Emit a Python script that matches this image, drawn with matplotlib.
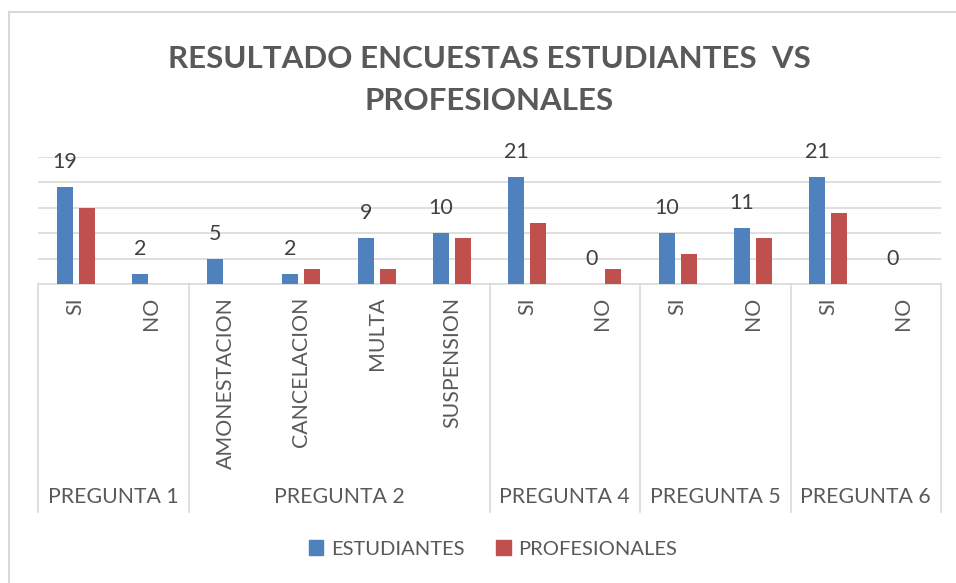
import matplotlib.pyplot as plt
import matplotlib.transforms as mtransforms
from matplotlib.lines import Line2D
from matplotlib.patches import Patch

categories = ["SI", "NO", "AMONESTACION", "CANCELACION", "MULTA", "SUSPENSION",
              "SI", "NO", "SI", "NO", "SI", "NO"]
groups = ["PREGUNTA 1", "PREGUNTA 2", "PREGUNTA 4", "PREGUNTA 5", "PREGUNTA 6"]
group_sizes = [2, 4, 2, 2, 2]
estudiantes = [19, 2, 5, 2, 9, 10, 21, 0, 10, 11, 21, 0]
profesionales = [15, 0, 0, 3, 3, 9, 12, 3, 6, 9, 14, 0]

BLUE = "#4f81bd"
RED = "#c0504d"
TEXT = "#595959"
GRID = "#d9d9d9"

plt.rcParams["font.family"] = ["Lato", "DejaVu Sans"]

W, H = 956, 583
fig = plt.figure(figsize=(W / 100, H / 100), dpi=100)

# plot area in pixel coords
left, right, top, bottom = 38, 941, 157, 284
ax = fig.add_axes([left / W, 1 - bottom / H, (right - left) / W, (bottom - top) / H])

x = list(range(len(categories)))
bw = 0.213
off = 0.146
ax.bar([i - off for i in x], estudiantes, width=bw, color=BLUE, zorder=3)
ax.bar([i + off for i in x], profesionales, width=bw, color=RED, zorder=3)

for i, v in enumerate(estudiantes):
    ax.annotate(str(v), (i - off, v), xytext=(0, 18), textcoords="offset points",
                ha="center", va="center", fontsize=15.5, color="#404040",
                annotation_clip=False)

ax.set_xlim(-0.5, len(categories) - 0.5)
ax.set_ylim(0, 25)
ax.set_yticks([5, 10, 15, 20, 25])
ax.yaxis.grid(True, color=GRID, linewidth=1.2, zorder=0)
ax.tick_params(left=False, bottom=False, labelleft=False, labelbottom=False)
for s in ["top", "right", "left"]:
    ax.spines[s].set_visible(False)
ax.spines["bottom"].set_color(GRID)
ax.spines["bottom"].set_linewidth(1.2)

ph = bottom - top
trans = mtransforms.blended_transform_factory(ax.transData, ax.transAxes)

for i, c in enumerate(categories):
    ax.text(i, -(297 - bottom) / ph, c, rotation=90, ha="center", va="top",
            fontsize=15.3, color=TEXT, transform=trans)

start = -0.5
sep_bottom = -(512 - bottom) / ph
ax.plot([start, start], [0, sep_bottom], color=GRID, lw=1.2, transform=trans, clip_on=False)
for g, n in zip(groups, group_sizes):
    end = start + n
    ax.plot([end, end], [0, sep_bottom], color=GRID, lw=1.2, transform=trans, clip_on=False)
    ax.text((start + end) / 2, -(497 - bottom) / ph, g, ha="center", va="center",
            fontsize=15.3, color=TEXT, transform=trans)
    start = end

fig.text(489 / W, 1 - 80 / H, "RESULTADO ENCUESTAS ESTUDIANTES  VS\nPROFESIONALES",
         ha="center", va="center", fontsize=22.5, fontweight="bold", color=TEXT,
         linespacing=1.6)

handles = [Patch(color=BLUE), Patch(color=RED)]
fig.legend(handles, ["ESTUDIANTES", "PROFESIONALES"], loc="center",
           bbox_to_anchor=(493 / W, 1 - 549 / H), ncol=2, frameon=False,
           fontsize=14.5, labelcolor=TEXT, handlelength=0.7, handleheight=0.7,
           handletextpad=0.4, columnspacing=1.6)

# outer chart border (left and top only visible)
fig.add_artist(Line2D([9 / W, 9 / W], [0, 1 - 12 / H], color=GRID, lw=1.5))
fig.add_artist(Line2D([9 / W, 1], [1 - 12 / H, 1 - 12 / H], color=GRID, lw=1.5))

fig.savefig("out.png", dpi=100)
